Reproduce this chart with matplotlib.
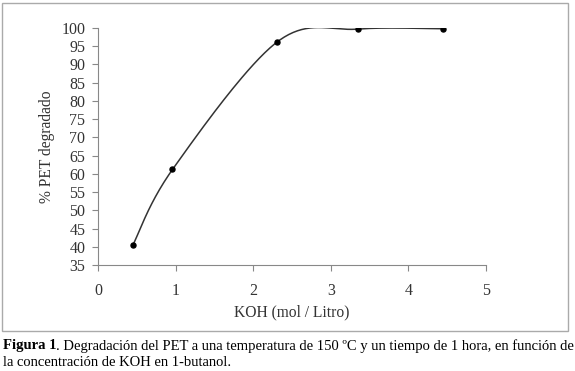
import matplotlib
matplotlib.use("Agg")
import matplotlib.pyplot as plt
import numpy as np
from matplotlib.patches import Rectangle

plt.rcParams["font.family"] = ["Liberation Serif", "DejaVu Serif"]

# data
koh = [0.45, 0.96, 2.31, 3.35, 4.44]
pet = [40.5, 61.2, 96.2, 99.7, 99.8]
xticks = [0, 1, 2, 3, 4, 5]
yticks = list(range(35, 101, 5))


def smooth(xs, ys, n=40):
    # catmull-rom through the points, like Excel's smoothed line
    p = np.column_stack([xs, ys]).astype(float)
    p = np.vstack([p[0], p, p[-1]])
    out = []
    for i in range(1, len(p) - 2):
        p0, p1, p2, p3 = p[i - 1], p[i], p[i + 1], p[i + 2]
        t = np.linspace(0, 1, n)[:, None]
        c = 0.5 * ((2 * p1) + (-p0 + p2) * t + (2 * p0 - 5 * p1 + 4 * p2 - p3) * t**2
                   + (-p0 + 3 * p1 - 3 * p2 + p3) * t**3)
        out.append(c)
    c = np.vstack(out)
    return c[:, 0], c[:, 1]


fig = plt.figure(figsize=(5.75, 3.71), dpi=100)
ax = fig.add_axes([98 / 575, 106 / 371, 388 / 575, 237 / 371])

sx, sy = smooth(koh, pet)
ax.plot(sx, sy, color="#333333", lw=1.1)
ax.plot(koh, pet, "o", color="black", ms=3.6)

ax.set_xlim(0, 5)
ax.set_ylim(35, 100)
ax.set_xticks(xticks)
ax.set_yticks(yticks)
for s in ["top", "right"]:
    ax.spines[s].set_visible(False)
for s in ["left", "bottom"]:
    ax.spines[s].set_color("#888888")
ax.tick_params(colors="#888888", labelcolor="#333333", labelsize=11.5, length=4)
ax.tick_params(axis="x", pad=9)
ax.tick_params(axis="y", pad=5)
ax.set_xlabel("KOH (mol / Litro)", fontsize=11.2, color="#333333", labelpad=4)
ax.set_ylabel("% PET degradado", fontsize=11.2, color="#333333", labelpad=5)

fig.patches.append(Rectangle((2 / 575, 40 / 371), 566 / 575, 328 / 371,
                             transform=fig.transFigure, fill=False,
                             edgecolor="#aaaaaa", lw=1))

y1 = 1 - 346 / 371
t = fig.text(3 / 575, y1, "Figura 1", fontsize=10.5, fontweight="bold", va="center")
fig.canvas.draw()
bb = t.get_window_extent()
fig.text(bb.x1 / fig.bbox.width, y1,
         ". Degradación del PET a una temperatura de 150 ºC y un tiempo de 1 hora, en función de",
         fontsize=10.5, va="center")
fig.text(3 / 575, 1 - 362 / 371, "la concentración de KOH en 1-butanol.",
         fontsize=10.5, va="center")

fig.savefig("out.png", dpi=100, facecolor="white")
